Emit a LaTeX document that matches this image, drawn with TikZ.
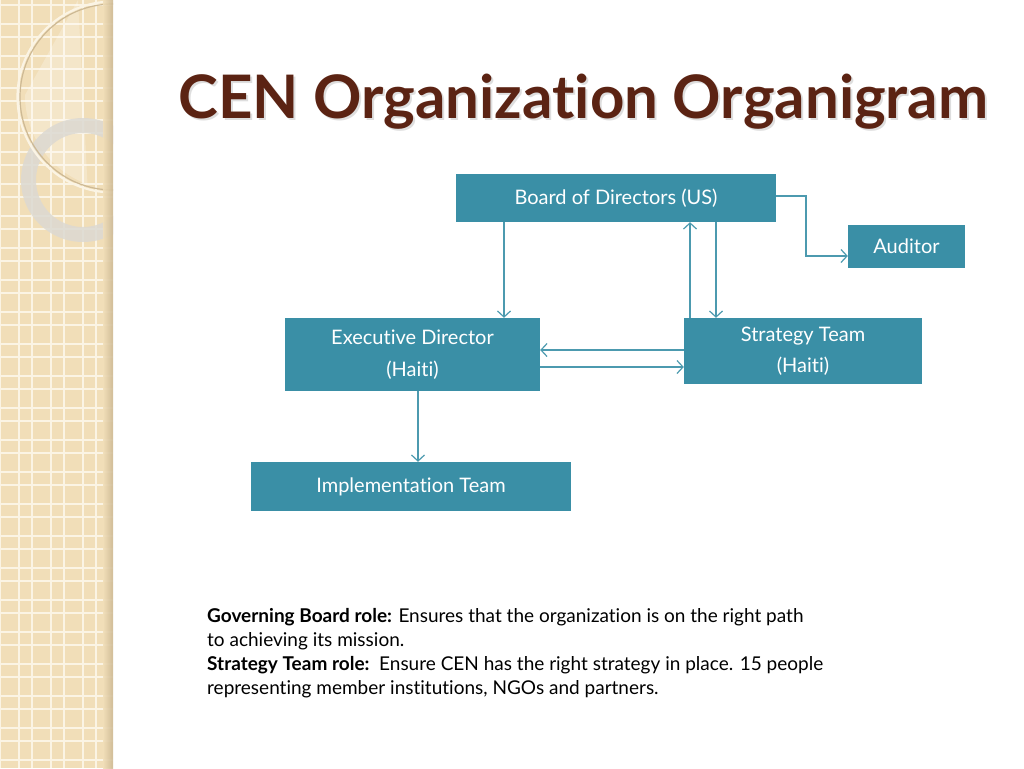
\documentclass[tikz,border=0pt]{standalone}
\usepackage{fontspec}
\setmainfont[Ligatures=NoCommon]{Lato}
\usetikzlibrary{arrows.meta,calc}
\definecolor{boxc}{HTML}{3A8FA6}
\definecolor{linec}{HTML}{4C9AAF}
\definecolor{titlec}{HTML}{5B2313}
\definecolor{beige}{HTML}{F1DEB8}
\definecolor{gridc}{HTML}{FBF4E4}
\definecolor{shadowc}{HTML}{CDB994}
\definecolor{ringg}{HTML}{DCD9D2}
\tikzset{
  box/.style={fill=boxc, text=white, font=\fontsize{20}{31.5}\selectfont, align=center, inner sep=0pt},
  arr/.style={draw=linec, line width=1.2pt, -{Straight Barb[length=6pt,width=13pt,line width=1.2pt]}},
}
\begin{document}
\begin{tikzpicture}[x=1pt,y=-1pt]
\useasboundingbox (0,0) rectangle (1024,768);
\fill[white] (0,0) rectangle (1024,768);
% left decorative strip
\begin{scope}
\clip (0,0) rectangle (113,768);
\fill[beige] (0,0) rectangle (113,768);
\foreach \k in {0,...,3}{
  \draw[gridc, line width=1.4pt] (32*\k,0) -- (32*\k,768);
  \draw[gridc, line width=1.4pt] (32*\k+19,0) -- (32*\k+19,768);
}
\foreach \k in {0,...,24}{
  \draw[gridc, line width=1.4pt] (0,32*\k+5) -- (113,32*\k+5);
  \draw[gridc, line width=1.4pt] (0,32*\k+24) -- (113,32*\k+24);
}
% light wedge
\fill[white, opacity=0.25] (78,0) -- (25,95) arc[start angle=180, end angle=110, radius=95] -- cycle;
% grey thick ring
\fill[ringg, opacity=0.85, even odd rule] (83,180) circle[radius=62] (83,180) circle[radius=47];
% thin cream ring with shadow
\draw[shadowc, line width=1.2pt] (113,97) circle[radius=93];
\draw[gridc, line width=2.2pt] (113,97) circle[radius=95.5];
% right-edge shadow
\shade[left color=beige, right color=shadowc, opacity=0.9] (103,0) rectangle (113,768);
\end{scope}
% title
\node[anchor=base west, text=black!25, opacity=0.5, font=\fontsize{60}{70}\bfseries] at (177,120) {CEN Organization Organigram};
\node[anchor=base west, text=titlec, font=\fontsize{60}{70}\bfseries] at (175,118) {CEN Organization Organigram};
% boxes
\node[box, minimum width=320pt, minimum height=48pt] (board) at (616,198) {Board of Directors (US)};
\node[box, minimum width=117pt, minimum height=43pt] (aud) at (906.5,246.5) {Auditor};
\node[box, minimum width=238pt, minimum height=66pt] (strat) at (803,351) {Strategy Team\\(Haiti)};
\node[box, minimum width=255pt, minimum height=73pt] (exec) at (412.5,354.5) {Executive Director\\(Haiti)};
\node[box, minimum width=320pt, minimum height=49pt] (impl) at (411,486.5) {Implementation Team};
% connectors
\draw[arr] (board.south -| 504,0) -- (exec.north -| 504,0);
\draw[arr] (board.south -| 716,0) -- (strat.north -| 716,0);
\draw[arr] (strat.north -| 690,0) -- (board.south -| 690,0);
\draw[arr] (board.east |- 0,196) -- (806,196) -- (806,256) -- (aud.west |- 0,256);
\draw[arr] (strat.west |- 0,350) -- (exec.east |- 0,350);
\draw[arr] (exec.east |- 0,367) -- (strat.west |- 0,367);
\draw[arr] (exec.south -| 418,0) -- (impl.north -| 418,0);
% bottom text
\node[anchor=north west, align=left, inner sep=0pt, font=\fontsize{19}{24}\selectfont] (txt) at (207,608)
{\textbf{Governing Board role:} Ensures that the organization is on the right path\\
to achieving its mission.\\
\textbf{Strategy Team role:}\ \ Ensure CEN has the right strategy in place. 15 people\\
representing member institutions, NGOs and partners.};
\end{tikzpicture}
\end{document}
